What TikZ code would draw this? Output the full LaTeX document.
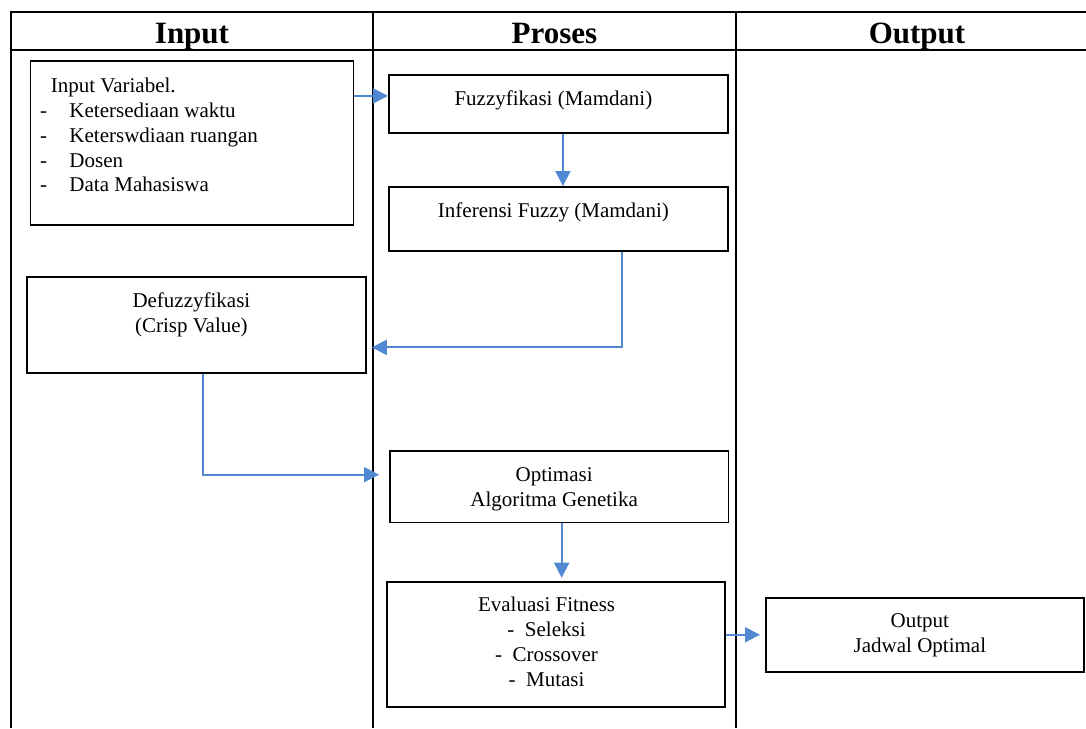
\documentclass[tikz,border=0pt]{standalone}
\usepackage{fontspec}
\setmainfont{Liberation Serif}
\usetikzlibrary{arrows.meta}
\definecolor{arrblue}{RGB}{80,137,210}
\begin{document}
\begin{tikzpicture}[x=1pt,y=-1pt,
  tbl/.style={line width=2.3pt, black},
  box/.style={draw, line width=1.8pt, rectangle, inner sep=0pt, anchor=north west},
  boxtext/.style={anchor=north, align=center, inner sep=0pt, yshift=-17pt, xshift=-5pt, font=\fontsize{21}{25}\selectfont},
  arr/.style={draw=arrblue, line width=2pt, -{Triangle[length=15pt,width=15pt]}},
  head/.style={font=\fontsize{31}{36}\selectfont\bfseries, anchor=base, inner sep=0pt}]
\useasboundingbox (0,0) rectangle (1086,728);
% table frame
\draw[tbl] (10,12) -- (1086,12);
\draw[tbl] (11,50) -- (1086,50);
\draw[tbl] (11,12) -- (11,728);
\draw[tbl] (373,12) -- (373,728);
\draw[tbl] (736,12) -- (736,728);
% headers
\node[head] (hin) at (192,43) {Input};
\node[head] (hpr) at (554.5,43) {Proses};
\node[head] (hout) at (917,43) {Output};
% boxes
\node[box, minimum width=323pt, minimum height=164pt,
  label={[anchor=north west, inner sep=0pt, xshift=10.5pt, yshift=-18pt, align=left, font=\fontsize{21}{24.8}\selectfont]north west:{\hspace*{10.7pt}Input Variabel.\\\makebox[29.3pt][l]{-}Ketersediaan waktu\\\makebox[29.3pt][l]{-}Keterswdiaan ruangan\\\makebox[29.3pt][l]{-}Dosen\\\makebox[29.3pt][l]{-}Data Mahasiswa}}] (inp) at (29.5,60) {};
\node[box, minimum width=339pt, minimum height=57.7pt,
  label={[boxtext]north:{Fuzzyfikasi (Mamdani)}}] (fuz) at (388,74) {};
\node[box, minimum width=339pt, minimum height=64pt,
  label={[boxtext]north:{Inferensi Fuzzy (Mamdani)}}] (inf) at (388,186) {};
\node[box, minimum width=339pt, minimum height=96pt,
  label={[boxtext]north:{Defuzzyfikasi\\(Crisp Value)}}] (def) at (26,276) {};
\node[box, minimum width=338.5pt, minimum height=71.5pt,
  label={[boxtext]north:{Optimasi\\Algoritma Genetika}}] (opt) at (389,450) {};
\node[box, minimum width=338.3pt, minimum height=125.3pt,
  label={[boxtext, xshift=-4.5pt, yshift=1pt]north:{Evaluasi Fitness\\-~~Seleksi\\-~~Crossover\\-~~Mutasi}}] (eval) at (386,580.7) {};
\node[box, minimum width=318pt, minimum height=74.3pt,
  label={[boxtext]north:{Output\\Jadwal Optimal}}] (out) at (765,596.7) {};
% connectors
\draw[arr] ([yshift=47pt]inp.east) -- ([yshift=47pt]inp.east -| fuz.west);
\draw[arr] ([xshift=4.5pt]fuz.south) -- ([xshift=4.5pt]fuz.south |- inf.north);
\draw[arr] ([xshift=64pt]inf.south) |- ([xshift=5pt,yshift=-22.5pt]def.east);
\draw[arr] ([xshift=6.5pt]def.south) |- ([xshift=-10pt,yshift=12pt]opt.west);
\draw[arr] ([xshift=2.5pt]opt.south) -- ([xshift=2.5pt,yshift=3pt]opt.south |- eval.north);
\draw[arr] (eval.east |- out.west) -- ([xshift=-5pt]out.west);
\end{tikzpicture}
\end{document}
